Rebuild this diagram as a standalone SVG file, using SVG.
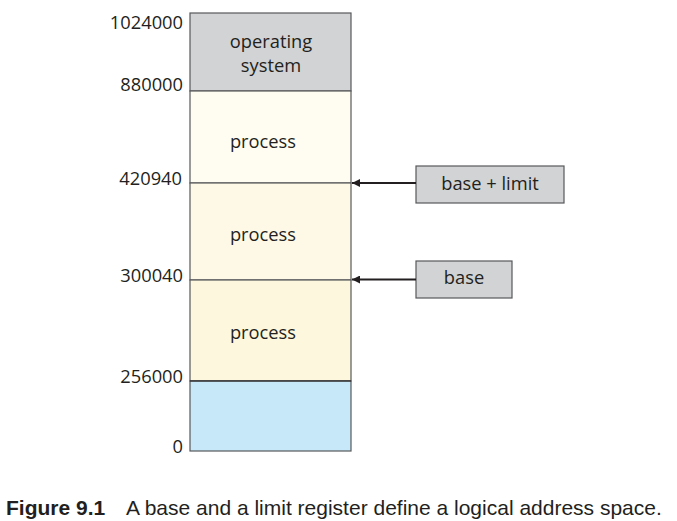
<svg xmlns="http://www.w3.org/2000/svg" width="677" height="521" viewBox="0 0 677 521">
<defs>
<style>
.lbl{font-family:"Open Sans","Liberation Sans",sans-serif;font-size:18.3px;fill:#231f20}
.num{text-anchor:end}
.mid{text-anchor:middle}
.seg{stroke:#58595b;stroke-width:1.2}
.reg{fill:#d1d3d4;stroke:#58595b;stroke-width:1.2}
.conn{stroke:#231f20;stroke-width:2;fill:none}
.cap{font-family:"Liberation Sans",Arial,sans-serif;font-size:21px;fill:#231f20}
</style>
<marker id="ah" viewBox="0 0 10 10" refX="10" refY="5" markerWidth="5" markerHeight="4" orient="auto" markerUnits="strokeWidth">
<path d="M10,5 L0,0 L0,10 Z" fill="#231f20"/>
</marker>
</defs>
<rect width="677" height="521" fill="#ffffff"/>
<g id="memory">
<rect x="190" y="13" width="161" height="78" fill="#d1d3d4" class="seg"/>
<rect x="190" y="91" width="161" height="92" fill="#fffdf2" class="seg"/>
<rect x="190" y="183" width="161" height="97" fill="#fef9e7" class="seg"/>
<rect x="190" y="280" width="161" height="101" fill="#fdf7dd" class="seg"/>
<rect x="190" y="381" width="161" height="70" fill="#c6e8f8" class="seg"/>
<line x1="190" y1="381" x2="351" y2="381" stroke="#231f20" stroke-width="1.2"/>
</g>
<g id="labels">
<text class="lbl mid" x="271" y="48">operating</text>
<text class="lbl mid" x="271" y="72">system</text>
<text class="lbl mid" x="263" y="148">process</text>
<text class="lbl mid" x="263" y="241">process</text>
<text class="lbl mid" x="263" y="339">process</text>
<text class="lbl num" x="183" y="29">1024000</text>
<text class="lbl num" x="183" y="91">880000</text>
<text class="lbl num" x="182" y="185">420940</text>
<text class="lbl num" x="183" y="282">300040</text>
<text class="lbl num" x="183" y="383">256000</text>
<text class="lbl num" x="183" y="453">0</text>
</g>
<g id="baselimit">
<rect x="416" y="166" width="148" height="37" class="reg"/>
<text class="lbl mid" x="490" y="190">base + limit</text>
</g>
<g id="base">
<rect x="416" y="261" width="96" height="37" class="reg"/>
<text class="lbl mid" x="464" y="284">base</text>
</g>
<g id="connectors">
<line class="conn" x1="416" y1="183" x2="352" y2="183" marker-end="url(#ah)"/>
<line class="conn" x1="416" y1="279.5" x2="352" y2="279.5" marker-end="url(#ah)"/>
</g>
<text class="cap" y="515"><tspan x="6" font-weight="bold">Figure 9.1</tspan><tspan x="126">A base and a limit register define a logical address space.</tspan></text>
</svg>
